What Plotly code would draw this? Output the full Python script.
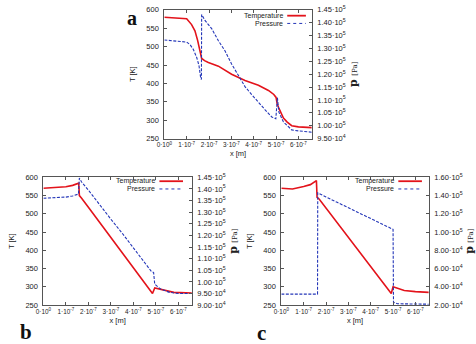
import math
import plotly.graph_objects as go

# ---------------- data (x in units of 1e-7 m) ----------------
XU = 1e-7

# panel a
a_T_x = [0, 0.5, 1.0, 1.22, 1.37, 1.49, 1.58, 1.64, 1.67, 1.8, 1.97, 2.42, 3.01, 3.61, 4.21, 4.66, 4.9, 5.0, 5.05, 5.13, 5.33, 5.5, 5.7, 6.0, 6.6]
a_T_y = [580, 578, 576, 560, 543, 517, 495, 478, 468, 462, 457, 447, 425, 408, 395, 381, 370, 362, 345, 332, 306, 295, 285, 282, 280]
a_p_x = [0, 0.5, 1.0, 1.15, 1.3, 1.45, 1.55, 1.63, 1.66, 1.67, 1.82, 2.12, 2.42, 2.72, 3.01, 3.31, 3.61, 3.91, 4.21, 4.51, 4.81, 4.99, 5.06, 5.13, 5.33, 5.7, 6.0, 6.6]
a_p_y = [1.333e5, 1.33e5, 1.325e5, 1.315e5, 1.296e5, 1.265e5, 1.234e5, 1.184e5, 1.18e5, 1.432e5, 1.409e5, 1.377e5, 1.33e5, 1.29e5, 1.24e5, 1.196e5, 1.152e5, 1.121e5, 1.09e5, 1.062e5, 1.034e5, 1.027e5, 1.109e5, 1.052e5, 1.015e5, 0.984e5, 0.98e5, 0.975e5]

# panel b
b_T_x = [0, 0.5, 1.0, 1.3, 1.57, 1.6, 1.7, 2.0, 2.5, 3.0, 3.5, 4.0, 4.5, 4.85, 4.95, 5.1, 5.4, 5.8, 6.6]
b_T_y = [570, 571, 574, 578, 584, 550, 543, 518, 477, 436, 395, 354, 313, 282, 297, 295, 289, 285, 283]
b_p_x = [0, 0.5, 1.0, 1.3, 1.56, 1.6, 1.7, 2.0, 2.5, 3.0, 3.5, 4.0, 4.5, 4.8, 4.9, 4.95, 5.2, 5.6, 6.0, 6.6]
b_p_y = [1.36e5, 1.362e5, 1.365e5, 1.37e5, 1.378e5, 1.447e5, 1.43e5, 1.395e5, 1.33e5, 1.27e5, 1.21e5, 1.145e5, 1.08e5, 1.045e5, 1.04e5, 0.99e5, 0.97e5, 0.955e5, 0.95e5, 0.95e5]

# panel c
c_T_x = [0, 0.5, 1.0, 1.3, 1.57, 1.6, 1.7, 2.0, 2.5, 3.0, 3.5, 4.0, 4.5, 4.92, 5.0, 5.2, 5.5, 6.0, 6.6]
c_T_y = [570, 568, 575, 580, 591, 545, 540, 516, 476, 436, 396, 356, 316, 282, 300, 296, 290, 287, 285]
c_p_x = [0, 1.0, 1.62, 1.63, 1.7, 2.0, 2.5, 3.0, 3.5, 4.0, 4.5, 5.0, 5.02, 5.2, 6.6]
c_p_y = [3.2e4, 3.2e4, 3.2e4, 1.43e5, 1.42e5, 1.385e5, 1.326e5, 1.267e5, 1.208e5, 1.149e5, 1.09e5, 1.03e5, 2.3e4, 2.15e4, 2.1e4]

# ticks
T_ticks = [250, 300, 350, 400, 450, 500, 550, 600]
x_ticks = [0, 1, 2, 3, 4, 5, 6]
x_ticklabels = ["0·10<sup>0</sup>", "1·10<sup>-7</sup>", "2·10<sup>-7</sup>", "3·10<sup>-7</sup>",
                "4·10<sup>-7</sup>", "5·10<sup>-7</sup>", "6·10<sup>-7</sup>"]
a_p_ticks = [9.5e4, 1.0e5, 1.05e5, 1.1e5, 1.15e5, 1.2e5, 1.25e5, 1.3e5, 1.35e5, 1.4e5, 1.45e5]
b_p_ticks = [9.0e4, 9.5e4, 1.0e5, 1.05e5, 1.1e5, 1.15e5, 1.2e5, 1.25e5, 1.3e5, 1.35e5, 1.4e5, 1.45e5]
c_p_ticks = [2e4, 4e4, 6e4, 8e4, 1.0e5, 1.2e5, 1.4e5, 1.6e5]


def sci(v):
    e = int(math.floor(math.log10(v)))
    m = v / 10 ** e
    return f"{m:.2f}·10<sup>{e}</sup>"


RED = "#e3131b"
BLUE = "#2436b8"
FRAME = "#555555"
FONT = "Liberation Sans"

fig = go.Figure()

panels = [
    (a_T_x, a_T_y, a_p_x, a_p_y, "x", "y", "y2", a_p_ticks, [9.5e4, 1.45e5]),
    (b_T_x, b_T_y, b_p_x, b_p_y, "x2", "y3", "y4", b_p_ticks, [9.0e4, 1.45e5]),
    (c_T_x, c_T_y, c_p_x, c_p_y, "x3", "y5", "y6", c_p_ticks, [2e4, 1.6e5]),
]
for Tx, Ty, px, py, xa, ya, yb, _, _ in panels:
    fig.add_trace(go.Scatter(x=[v * XU for v in Tx], y=Ty, mode="lines", xaxis=xa, yaxis=ya,
                             line=dict(color=RED, width=1.6), showlegend=False, name="Temperature"))
    fig.add_trace(go.Scatter(x=[v * XU for v in px], y=py, mode="lines", xaxis=xa, yaxis=yb,
                             line=dict(color=BLUE, width=1.1, dash="3px,1.5px"), showlegend=False,
                             name="Pressure"))

W, H = 476, 344
doms = {
    "a": ([159 / W, 309 / W], [(H - 137) / H, (H - 4) / H]),
    "b": ([36 / W, 187 / W], [(H - 309) / H, (H - 177) / H]),
    "c": ([278 / W, 428 / W], [(H - 309) / H, (H - 177) / H]),
}

tickfont = dict(family=FONT, size=7.5, color="#222")
base_axis = dict(showgrid=False, zeroline=False, showline=True, linecolor=FRAME, linewidth=1,
                 ticks="inside", ticklen=3, tickcolor=FRAME, tickfont=tickfont)

ptitle = "<b>p</b> <span style='font-size:7px'>[Pa]</span>"

layout = dict(width=W, height=H, autosize=False, margin=dict(l=0, r=0, t=0, b=0),
              paper_bgcolor="white", plot_bgcolor="white", showlegend=False,
              font=dict(family=FONT, size=7.5, color="#222"))

xnames = ["xaxis", "xaxis2", "xaxis3"]
xids = ["x", "x2", "x3"]
yTnames = ["yaxis", "yaxis3", "yaxis5"]
yTids = ["y", "y3", "y5"]
yPnames = ["yaxis2", "yaxis4", "yaxis6"]
for i, k in enumerate(["a", "b", "c"]):
    xd, yd = doms[k]
    pt = panels[i][7]
    pr = panels[i][8]
    layout[xnames[i]] = dict(base_axis, domain=xd, anchor=yTids[i], range=[0, 6.6e-7],
                             tickvals=[v * XU for v in x_ticks], ticktext=x_ticklabels,
                             tickangle=0, tickfont=dict(family=FONT, size=6.4, color="#222"),
                             mirror="ticks",
                             title=dict(text="x [m]", font=dict(family=FONT, size=7.5), standoff=3))
    layout[yTnames[i]] = dict(base_axis, domain=yd, anchor=xids[i], range=[250, 600],
                              tickvals=T_ticks, ticklabelstandoff=3,
                              title=dict(text="T [K]", font=dict(family=FONT, size=7.5), standoff=9))
    layout[yPnames[i]] = dict(base_axis, overlaying=yTids[i], anchor=xids[i], side="right",
                              range=pr, tickvals=pt, ticktext=[sci(v) for v in pt],
                              ticklabelstandoff=3,
                              title=dict(text=ptitle, font=dict(family="DejaVu Serif", size=11), standoff=4))

fig.update_layout(**layout)

# legends (gnuplot style: text left, sample right)
legend_pos = {
    "a": (281, 284, 303, 10, 18),
    "b": (151, 154, 178, 181, 189),
    "c": (394, 397, 421, 181, 189),
}
for k, (tx, s0, s1, y1, y2) in legend_pos.items():
    for lbl, yy, col, dash, wd in [("Temperature", y1, RED, None, 1.8), ("Pressure", y2, BLUE, "dot", 1.0)]:
        fig.add_annotation(x=tx / W, y=(H - yy) / H, xref="paper", yref="paper", text=lbl,
                           showarrow=False, xanchor="right", yanchor="middle",
                           font=dict(family=FONT, size=7, color="#222"), borderpad=0)
        fig.add_shape(type="line", xref="paper", yref="paper", x0=s0 / W, x1=s1 / W,
                      y0=(H - yy) / H, y1=(H - yy) / H,
                      line=dict(color=col, width=wd, dash=dash))

# panel letters
fig.add_annotation(x=126 / W, y=1, xref="paper", yref="paper", text="<b>a</b>",
                   showarrow=False, xanchor="center", yanchor="top", borderpad=0,
                   font=dict(family="Liberation Serif", size=20, color="#111"))
for lbl, px_, py_ in [("b", 18, 337), ("c", 258, 338)]:
    fig.add_annotation(x=px_ / W, y=(H - py_) / H, xref="paper", yref="paper", text=f"<b>{lbl}</b>",
                       showarrow=False, xanchor="center", yanchor="middle",
                       font=dict(family="Liberation Serif", size=21, color="#111"))

fig.write_html("out.html")
